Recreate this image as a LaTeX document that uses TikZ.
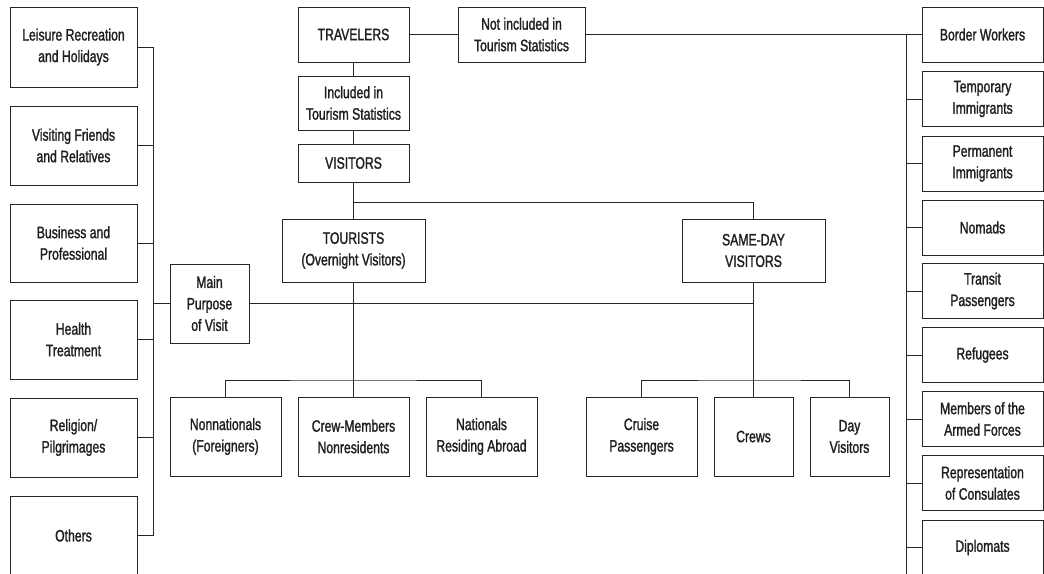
\documentclass[tikz,border=0pt]{standalone}
\usepackage{fontspec}
\setmainfont{Liberation Sans}[FakeStretch=0.74,FakeBold=1.4]
\begin{document}
\begin{tikzpicture}[x=1pt,y=-1pt,
  box/.style={draw=black!85,line width=1pt,rectangle,inner sep=0pt,align=center,
    font=\fontsize{16.5}{21.5}\selectfont,text=black!88},
  ln/.style={draw=black!85,line width=1pt}]
\useasboundingbox (0,0) rectangle (1044,573);
\clip (0,0) rectangle (1044,573);
% left column
\node[box,minimum width=127,minimum height=80] (leis) at (73.5,47) {Leisure Recreation\\and Holidays};
\node[box,minimum width=127,minimum height=79] (vfr) at (73.5,145.5) {Visiting Friends\\and Relatives};
\node[box,minimum width=127,minimum height=78] (bus) at (73.5,243) {Business and\\Professional};
\node[box,minimum width=127,minimum height=79] (hea) at (73.5,339.5) {Health\\Treatment};
\node[box,minimum width=127,minimum height=79] (rel) at (73.5,437.5) {Religion/\\Pilgrimages};
\node[box,minimum width=127,minimum height=79] (oth) at (73.5,535.5) {Others};
\node[box,minimum width=79,minimum height=79] (main) at (209.5,303.5) {Main\\Purpose\\of Visit};
% top centre
\node[box,minimum width=111,minimum height=55] (trav) at (353.5,34.5) {TRAVELERS};
\node[box,minimum width=111,minimum height=54] (inc) at (353.5,103) {Included in\\Tourism Statistics};
\node[box,minimum width=111,minimum height=38] (vis) at (353.5,163) {VISITORS};
\node[box,minimum width=127,minimum height=55] (notinc) at (521.5,34.5) {Not included in\\Tourism Statistics};
\node[box,minimum width=143,minimum height=63] (tour) at (353.5,250.5) {TOURISTS\\(Overnight Visitors)};
\node[box,minimum width=143,minimum height=63] (same) at (753.5,250.5) {SAME-DAY\\VISITORS};
% bottom
\node[box,minimum width=111,minimum height=79] (nonnat) at (225.5,436.5) {Nonnationals\\(Foreigners)};
\node[box,minimum width=111,minimum height=79] (crewm) at (353.5,436.5) {Crew-Members\\Nonresidents};
\node[box,minimum width=111,minimum height=79] (natab) at (481.5,436.5) {Nationals\\Residing Abroad};
\node[box,minimum width=111,minimum height=79] (cruise) at (641.5,436.5) {Cruise\\Passengers};
\node[box,minimum width=79,minimum height=79] (crews) at (753.5,436.5) {Crews};
\node[box,minimum width=79,minimum height=79] (day) at (849.5,436.5) {Day\\Visitors};
% right column
\node[box,minimum width=121,minimum height=55] (bord) at (982.5,34.5) {Border Workers};
\node[box,minimum width=121,minimum height=55] (temp) at (982.5,99) {Temporary\\Immigrants};
\node[box,minimum width=121,minimum height=55] (perm) at (982.5,163.5) {Permanent\\Immigrants};
\node[box,minimum width=121,minimum height=55] (nom) at (982.5,227.5) {Nomads};
\node[box,minimum width=121,minimum height=55] (trans) at (982.5,291) {Transit\\Passengers};
\node[box,minimum width=121,minimum height=55] (ref) at (982.5,355) {Refugees};
\node[box,minimum width=121,minimum height=55] (arm) at (982.5,419) {Members of the\\Armed Forces};
\node[box,minimum width=121,minimum height=55] (rep) at (982.5,483) {Representation\\of Consulates};
\node[box,minimum width=121,minimum height=55] (dip) at (982.5,547.5) {Diplomats};
% coordinates
\coordinate (lbus) at (153,0);
\coordinate (rbus) at (906,0);
\coordinate (rbusend) at (906,575);
\coordinate (topbus) at (0,202);
\coordinate (midline) at (0,303.5);
\coordinate (lowbus) at (0,380);
% left connectors
\draw[ln] (leis.east) -| (lbus |- oth.east) -- (oth.east);
\foreach \n in {vfr,bus,hea,rel} \draw[ln] (\n.east) -- (\n.east -| lbus);
\draw[ln] (main.west) -- (main.west -| lbus);
\draw[ln] (main.east) -- (same.south |- midline);
% top centre
\draw[ln] (trav.south) -- (inc.north);
\draw[ln] (inc.south) -- (vis.north);
\draw[ln] (trav.east) -- (notinc.west);
\draw[ln] (notinc.east) -- (bord.west);
\draw[ln] (vis.south) -- (vis.south |- topbus) -| (same.north);
\draw[ln] (vis.south |- topbus) -- (tour.north);
% tourists subtree
\draw[ln] (tour.south) -- (crewm.north);
\draw[ln] (nonnat.north) |- (tour.south |- lowbus) -| (natab.north);
% same-day subtree
\draw[ln] (same.south) -- (crews.north);
\draw[ln] (cruise.north) |- (same.south |- lowbus) -| (day.north);
% right column
\draw[ln] (rbus |- bord.west) -- (rbusend);
\foreach \n in {temp,perm,nom,trans,ref,arm,rep,dip} \draw[ln] (\n.west) -- (\n.west -| rbus);
\end{tikzpicture}
\end{document}
